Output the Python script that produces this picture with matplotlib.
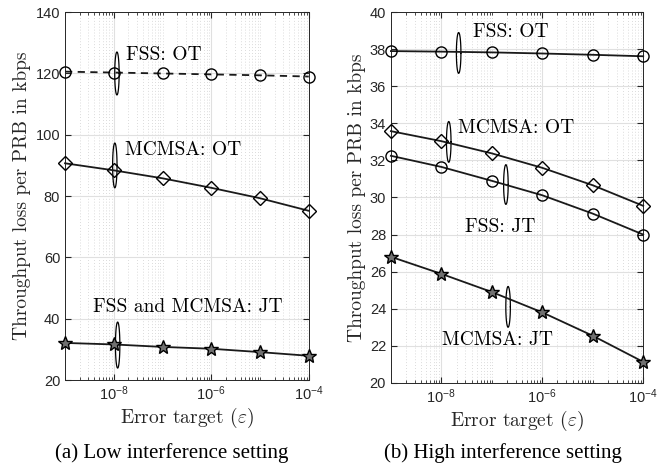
import numpy as np
import matplotlib
matplotlib.use("Agg")
import matplotlib.pyplot as plt
from matplotlib.ticker import LogLocator, FixedLocator, FixedFormatter, NullFormatter

plt.rcParams['mathtext.fontset'] = 'custom'
plt.rcParams['mathtext.it'] = 'cmmi10'
plt.rcParams['mathtext.rm'] = 'Liberation Sans'
plt.rcParams['axes.unicode_minus'] = False

eps = [1e-9, 1e-8, 1e-7, 1e-6, 1e-5, 1e-4]

# (a) low interference
low_fss_ot = [120.6, 120.3, 120.0, 119.7, 119.4, 119.0]
low_mcmsa_ot = [90.7, 88.4, 85.8, 82.7, 79.3, 75.2]
low_jt = [32.1, 31.6, 30.8, 30.2, 29.1, 27.9]

# (b) high interference
high_fss_ot = [37.90, 37.87, 37.83, 37.77, 37.70, 37.62]
high_mcmsa_ot = [33.58, 33.04, 32.38, 31.60, 30.66, 29.55]
high_fss_jt = [32.25, 31.65, 30.90, 30.12, 29.13, 28.00]
high_mcmsa_jt = [26.80, 25.88, 24.90, 23.80, 22.54, 21.13]

# annotations: (text, text x, text y, ha, ellipse x, ellipse y, half height)
low_notes = [
    ("FSS: OT", 1.8e-8, 126.0, "left", 1.16e-8, 120.0, 7.0),
    ("MCMSA: OT", 1.7e-8, 95.0, "left", 1.05e-8, 90.0, 7.3),
    ("FSS and MCMSA: JT", 3.3e-7, 43.8, "center", 1.2e-8, 31.4, 7.5),
]
high_notes = [
    ("FSS: OT", 4.2e-8, 38.95, "left", 2.2e-8, 37.8, 1.1),
    ("MCMSA: OT", 2.1e-8, 33.75, "left", 1.4e-8, 33.0, 1.1),
    ("FSS: JT", 1.45e-7, 28.4, "center", 1.9e-7, 30.7, 1.07),
    ("MCMSA: JT", 1.3e-7, 22.3, "center", 2.1e-7, 24.1, 1.1),
]

AX_COLOR = '#262626'
CM = 'cmr10'


def style_axes(ax, ylim, yticks):
    ax.set_xscale('log')
    ax.set_xlim(1e-9, 1e-4)
    ax.set_ylim(*ylim)
    ax.xaxis.set_major_locator(FixedLocator([1e-8, 1e-6, 1e-4]))
    ax.xaxis.set_major_formatter(FixedFormatter(['10$^{-8}$', '10$^{-6}$', '10$^{-4}$']))
    ax.xaxis.set_minor_locator(LogLocator(base=10, subs=np.arange(1, 10), numticks=20))
    ax.xaxis.set_minor_formatter(NullFormatter())
    ax.set_yticks(yticks)
    ax.tick_params(which='both', direction='in', top=True, right=True,
                   colors=AX_COLOR, labelsize=10.5)
    ax.tick_params(which='major', length=4)
    ax.tick_params(which='minor', length=2)
    for lab in ax.get_xticklabels() + ax.get_yticklabels():
        lab.set_family('Liberation Sans')
    ax.grid(True, which='major', color='#e0e0e0', linewidth=0.8)
    ax.grid(True, which='minor', axis='x', color='#cfcfcf',
            linestyle=(0, (1, 2.5)), linewidth=0.6)
    ax.set_axisbelow(True)
    for s in ax.spines.values():
        s.set_color(AX_COLOR)
        s.set_linewidth(0.7)
    ax.set_xlabel(r'Error target ($\varepsilon$)', family=CM, fontsize=14,
                  color=AX_COLOR, labelpad=2)
    ax.set_ylabel('Throughput loss per PRB in kbps', family=CM, fontsize=14,
                  color=AX_COLOR, labelpad=3)


def add_notes(ax, notes):
    t = np.linspace(0, 2 * np.pi, 100)
    for text, tx, ty, ha, ex, ey, eh in notes:
        ax.text(tx, ty, text, family=CM, fontsize=14, ha=ha, va='center')
        ax.plot(ex * 10 ** (0.045 * np.cos(t)), ey + eh * np.sin(t),
                color='black', linewidth=0.9)


def curve(ax, y, marker, ls='-', face='none'):
    size = {'o': 8, 'D': 7.5, '*': 10.5}[marker]
    ax.plot(eps, y, color='#1a1a1a', linestyle=ls, linewidth=1.3, marker=marker,
            markersize=size, markerfacecolor=face,
            markeredgecolor='black', markeredgewidth=1.0, clip_on=False, zorder=3)


fig = plt.figure(figsize=(6.57, 4.68), dpi=100)
ax1 = fig.add_axes([0.099, 0.188, 0.371, 0.786])
ax2 = fig.add_axes([0.595, 0.182, 0.384, 0.792])

curve(ax1, low_fss_ot, 'o', ls=(0, (4, 3)))
curve(ax1, low_mcmsa_ot, 'D')
curve(ax1, low_jt, '*', face='#707070')
style_axes(ax1, (20, 140), np.arange(20, 141, 20))
add_notes(ax1, low_notes)

curve(ax2, high_fss_ot, 'o')
curve(ax2, high_mcmsa_ot, 'D')
curve(ax2, high_fss_jt, 'o')
curve(ax2, high_mcmsa_jt, '*', face='#707070')
style_axes(ax2, (20, 40), np.arange(20, 41, 2))
add_notes(ax2, high_notes)

fig.text(0.262, 0.032, '(a) Low interference setting', family='Liberation Serif',
         fontsize=15, ha='center', va='center')
fig.text(0.765, 0.032, '(b) High interference setting', family='Liberation Serif',
         fontsize=15, ha='center', va='center')

fig.savefig('out.png', dpi=100)
